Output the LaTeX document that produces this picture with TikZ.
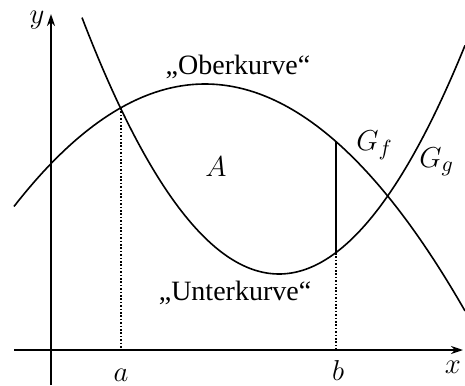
\documentclass[tikz,border=0pt]{standalone}
\usepackage{fontspec}
\setmainfont{Liberation Serif}
\usetikzlibrary{arrows.meta}
\begin{document}
\begin{tikzpicture}[x=0.5pt,y=-0.5pt,
  axis/.style={line width=1pt,-{Stealth[length=6pt,width=4pt]}},
  curve/.style={line width=0.8pt},
  dotline/.style={line width=0.8pt,dash pattern=on 0.8pt off 0.9pt},
  lbl/.style={anchor=base,inner sep=0pt,font=\fontsize{14}{16}\selectfont},
  mlbl/.style={anchor=base,inner sep=0pt,font=\fontsize{15}{17}\selectfont}]
\useasboundingbox (0,0) rectangle (465,385);
% axes
\coordinate (xs) at (14,350);
\coordinate (xe) at (463,350);
\coordinate (ys) at (51,385);
\coordinate (ye) at (51,14);
\draw[axis] (xs) -- (xe);
\draw[axis] (ys) -- (ye);
% curves
\draw[curve,domain=14:465,samples=120] plot (\x,{84+0.00335*(\x-205)*(\x-205)});
\draw[curve,domain=82:465,samples=120] plot (\x,{274-0.0066*(\x-279)*(\x-279)});
% a and b
\coordinate (aTop) at (121,108);
\coordinate (aBot) at (121,350);
\coordinate (bTop) at (336,142);
\coordinate (bMid) at (336,253);
\coordinate (bBot) at (336,350);
\draw[dotline] (aTop) -- (aBot);
\draw[curve] (bTop) -- (bMid);
\draw[dotline] (bMid) -- (bBot);
% labels
\node[mlbl] (ly) at (37,24) {$y$};
\node[mlbl] (lx) at (453,373) {$x$};
\node[mlbl] (la) at (121,381) {$a$};
\node[mlbl] (lb) at (338,380) {$b$};
\node[mlbl] (lA) at (216,176) {$A$};
\node[mlbl,anchor=base west] (lf) at (356,150) {$G_f$};
\node[mlbl,anchor=base west] (lg) at (419,167) {$G_g$};
\node[lbl] (lo) at (238,75) {„Oberkurve“};
\node[lbl] (lu) at (235,300) {„Unterkurve“};
\end{tikzpicture}
\end{document}
